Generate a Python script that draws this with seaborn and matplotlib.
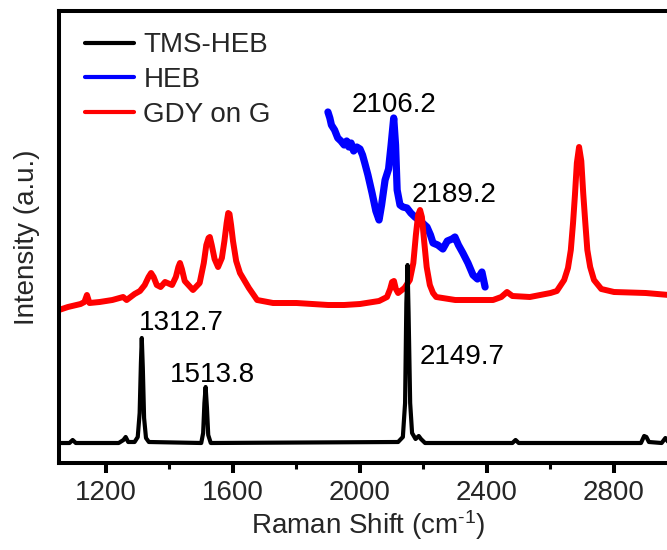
import matplotlib
matplotlib.use("Agg")
import matplotlib.pyplot as plt
from matplotlib.ticker import MultipleLocator
import pandas as pd
import seaborn as sns

# Raman spectra (offset intensities, arbitrary units)
tms_shift = [1052, 1085, 1095, 1105, 1240, 1255, 1262, 1270, 1290, 1300, 1306, 1310, 1312.7,
             1316, 1320, 1326, 1335, 1500, 1506, 1510, 1513.8, 1518, 1522, 1530, 2120, 2135,
             2142, 2146, 2149.7, 2153, 2158, 2164, 2175, 2185, 2192, 2205, 2480, 2490, 2500,
             2885, 2895, 2902, 2910, 2950, 2962, 2973]
tms_int = [20, 20, 23, 20, 20, 23, 26, 21, 21, 26, 50, 100, 125,
           95, 45, 25, 21, 20, 30, 60, 76, 55, 28, 20, 21, 26,
           60, 160, 198, 150, 60, 30, 24, 27, 24, 20, 20, 23, 20,
           20, 27, 26, 21, 20, 25, 20]

heb_shift = [1899, 1905, 1910, 1920, 1930, 1940, 1950, 1958, 1965, 1972, 1980, 1990, 2000,
             2008, 2015, 2025, 2038, 2050, 2060, 2068, 2079, 2090, 2098, 2106.2, 2112, 2117,
             2126, 2135, 2148, 2160, 2173, 2190, 2211, 2222, 2230, 2245, 2261, 2275, 2290,
             2299, 2310, 2324, 2340, 2356, 2370, 2384, 2394]
heb_int = [351, 345, 338, 333, 325, 322, 318, 322, 316, 320, 312, 316, 314,
           308, 300, 288, 270, 252, 243, 258, 283, 294, 318, 345, 318, 273,
           258, 256, 255, 250, 246, 242, 236, 228, 220, 218, 214, 222, 224,
           226, 218, 210, 200, 188, 184, 191, 176]

gdy_shift = [1052, 1080, 1120, 1132, 1140, 1148, 1180, 1220, 1254, 1265, 1290, 1307, 1322,
             1334, 1342, 1350, 1360, 1372, 1386, 1408, 1420, 1428, 1433, 1439, 1448, 1474,
             1495, 1508, 1516, 1523, 1527, 1533, 1542, 1553, 1565, 1573, 1580, 1585, 1589,
             1594, 1600, 1610, 1622, 1650, 1676, 1726, 1800, 1900, 1950, 2000, 2060, 2085,
             2095, 2101, 2107, 2113, 2120, 2140, 2157, 2168, 2176, 2183, 2189.2, 2195, 2202,
             2210, 2220, 2230, 2240, 2300, 2419, 2445, 2463, 2480, 2535, 2600, 2620, 2643,
             2655, 2664, 2671, 2677, 2683, 2690, 2697, 2703, 2709, 2716, 2725, 2737, 2760,
             2800, 2900, 2973]
gdy_int = [153, 156, 159, 161, 168, 160, 161, 163, 166, 163, 169, 172, 178,
           186, 190, 186, 178, 176, 181, 178, 186, 196, 200, 194, 182, 173,
           180, 200, 218, 225, 226, 218, 204, 196, 205, 222, 240, 250, 249,
           238, 222, 202, 190, 175, 163, 160, 160, 158, 158, 159, 162, 166,
           174, 181, 182, 174, 170, 175, 183, 200, 228, 248, 253, 246, 222,
           196, 178, 170, 166, 163, 163, 166, 171, 167, 166, 170, 172, 183,
           195, 213, 240, 268, 300, 316, 302, 270, 243, 213, 196, 183, 174,
           171, 170, 168]

series_names = ["TMS-HEB", "HEB", "GDY on G"]
series_colors = ["#000000", "#0000FF", "#FF0000"]

# Peak annotations: text, x position, baseline y position
peak_text = ["1312.7", "1513.8", "2149.7", "2106.2", "2189.2"]
peak_text_x = [1436, 1534, 2321, 2107, 2296]
peak_text_y = [133, 81, 99, 351, 261]

sns.set_theme(style="ticks")
plt.rcParams["font.family"] = ["Liberation Sans", "DejaVu Sans"]
plt.rcParams["mathtext.fontset"] = "custom"
plt.rcParams["mathtext.rm"] = "Liberation Sans"
plt.rcParams["mathtext.it"] = "Liberation Sans"

fig = plt.figure(figsize=(6.67, 5.5), dpi=100)
ax = fig.add_axes([59 / 667, 87 / 550, 618.5 / 667, 452 / 550])

frames = {
    "TMS-HEB": pd.DataFrame({"shift": tms_shift, "intensity": tms_int}),
    "HEB": pd.DataFrame({"shift": heb_shift, "intensity": heb_int}),
    "GDY on G": pd.DataFrame({"shift": gdy_shift, "intensity": gdy_int}),
}
widths = {"TMS-HEB": 3.0, "HEB": 5.2, "GDY on G": 4.3}
colors = dict(zip(series_names, series_colors))

# draw order: blue, red, black on top
for name in ["HEB", "GDY on G", "TMS-HEB"]:
    sns.lineplot(data=frames[name], x="shift", y="intensity", color=colors[name],
                 lw=widths[name], ax=ax, label=name, solid_joinstyle="round",
                 solid_capstyle="round")

for t, x, y in zip(peak_text, peak_text_x, peak_text_y):
    ax.text(x, y, t, ha="center", va="baseline", fontsize=20, color="black")

ax.set_xlim(1052, 3000)
ax.set_ylim(0, 452)
ax.set_yticks([])
ax.xaxis.set_major_locator(MultipleLocator(400))
ax.xaxis.set_minor_locator(MultipleLocator(200))
ax.tick_params(axis="x", which="major", direction="out", length=7, width=2.9,
               labelsize=20, pad=5, top=False, color="black")
ax.tick_params(axis="x", which="minor", direction="out", length=4, width=2.2,
               top=False, color="black")
for side in ["left", "top", "bottom"]:
    ax.spines[side].set_linewidth(2.9)
    ax.spines[side].set_color("black")
ax.spines["right"].set_visible(False)

ax.set_xlabel(r"Raman Shift (cm$^{\text{-1}}$)", fontsize=20, labelpad=2)
ax.set_ylabel("Intensity (a.u.)", fontsize=20, labelpad=14)

handles, labels = ax.get_legend_handles_labels()
order = [labels.index(n) for n in series_names]
leg = ax.legend([handles[i] for i in order], [labels[i] for i in order],
                loc="upper left", bbox_to_anchor=(0.042, 0.953), frameon=False,
                fontsize=20, handlelength=1.75, handletextpad=0.35,
                labelspacing=0.32, borderpad=0, borderaxespad=0)
for line in leg.get_lines():
    line.set_linewidth(3.0)

fig.savefig("out.png", dpi=100)
